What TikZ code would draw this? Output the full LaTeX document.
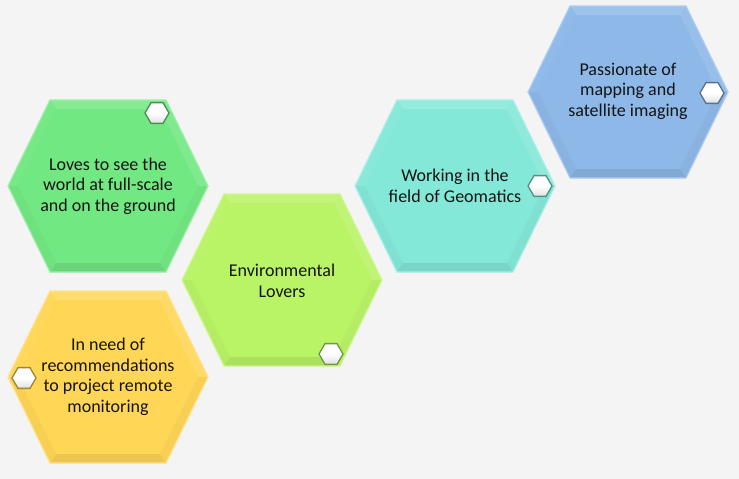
\documentclass[tikz,border=0pt]{standalone}
\usepackage{fontspec}
\setmainfont{Carlito}
\usetikzlibrary{shapes.geometric}

\definecolor{pagebg}{RGB}{244,244,244}
\definecolor{cellgreen}{RGB}{114,232,130}
\definecolor{celllime}{RGB}{185,243,102}
\definecolor{cellyellow}{RGB}{255,214,86}
\definecolor{cellteal}{RGB}{132,232,216}
\definecolor{cellblue}{RGB}{141,184,232}
\definecolor{inktext}{RGB}{20,20,20}

% one bevelled hexagon centred at (#1,#2) in colour #3
\newcommand\hexcell[3]{%
  \begin{scope}[shift={(#1,#2)}]
    \coordinate (o1) at (-100,0);  \coordinate (o2) at (-58,-86);
    \coordinate (o3) at (58,-86);  \coordinate (o4) at (100,0);
    \coordinate (o5) at (58,86);   \coordinate (o6) at (-58,86);
    \coordinate (i1) at (-90,0);   \coordinate (i2) at (-52,-77);
    \coordinate (i3) at (52,-77);  \coordinate (i4) at (90,0);
    \coordinate (i5) at (52,77);   \coordinate (i6) at (-52,77);
    \fill[#3] (o1)--(o2)--(o3)--(o4)--(o5)--(o6)--cycle;
    \fill[#3!86!white] (o2)--(o3)--(i3)--(i2)--cycle;
    \fill[#3!90!white] (o3)--(o4)--(i4)--(i3)--cycle;
    \fill[#3!97!black] (o4)--(o5)--(i5)--(i4)--cycle;
    \fill[#3!92!black] (o5)--(o6)--(i6)--(i5)--cycle;
    \fill[#3!97!black] (o6)--(o1)--(i1)--(i6)--cycle;
    \fill[#3!97!white] (o1)--(o2)--(i2)--(i1)--cycle;
    \draw[#3!70!white, line width=1.2pt, line join=round]
      (o1)--(o2)--(o3)--(o4)--(o5)--(o6)--cycle;
  \end{scope}}

\tikzset{
  celltext/.style={align=center, text=inktext, inner sep=0pt,
    font=\fontsize{18}{20.5}\selectfont},
  badge/.style={regular polygon, regular polygon sides=6, minimum size=24pt,
    inner sep=0pt, line width=1.3pt, draw=#1!62!black,
    top color=white, bottom color=black!12, middle color=white}
}

\begin{document}
\begin{tikzpicture}[x=1pt,y=-1pt]
  \fill[pagebg] (0,0) rectangle (739,479);
  \useasboundingbox (0,0) rectangle (739,479);

  \hexcell{108}{186}{cellgreen}
  \hexcell{282}{280}{celllime}
  \hexcell{108}{377}{cellyellow}
  \hexcell{455}{186}{cellteal}
  \hexcell{628}{92}{cellblue}

  \node[celltext] (ground) at (108,186)
    {Loves to see the\\world at full-scale\\and on the ground};
  \node[celltext] (env) at (282,281) {Environmental\\Lovers};
  \node[celltext] (remote) at (108,377)
    {In need of\\recommendations\\to project remote\\monitoring};
  \node[celltext] (geo) at (455,186) {Working in the\\field of Geomatics};
  \node[celltext] (sat) at (628,91)
    {Passionate of\\mapping and\\satellite imaging};

  \node[badge=cellgreen]  (ground-b) at (157,113) {};
  \node[badge=celllime]   (env-b)    at (331,354) {};
  \node[badge=cellyellow] (remote-b) at (24,378)  {};
  \node[badge=cellteal]   (geo-b)    at (540,186) {};
  \node[badge=cellblue]   (sat-b)    at (712,93)  {};
\end{tikzpicture}
\end{document}
